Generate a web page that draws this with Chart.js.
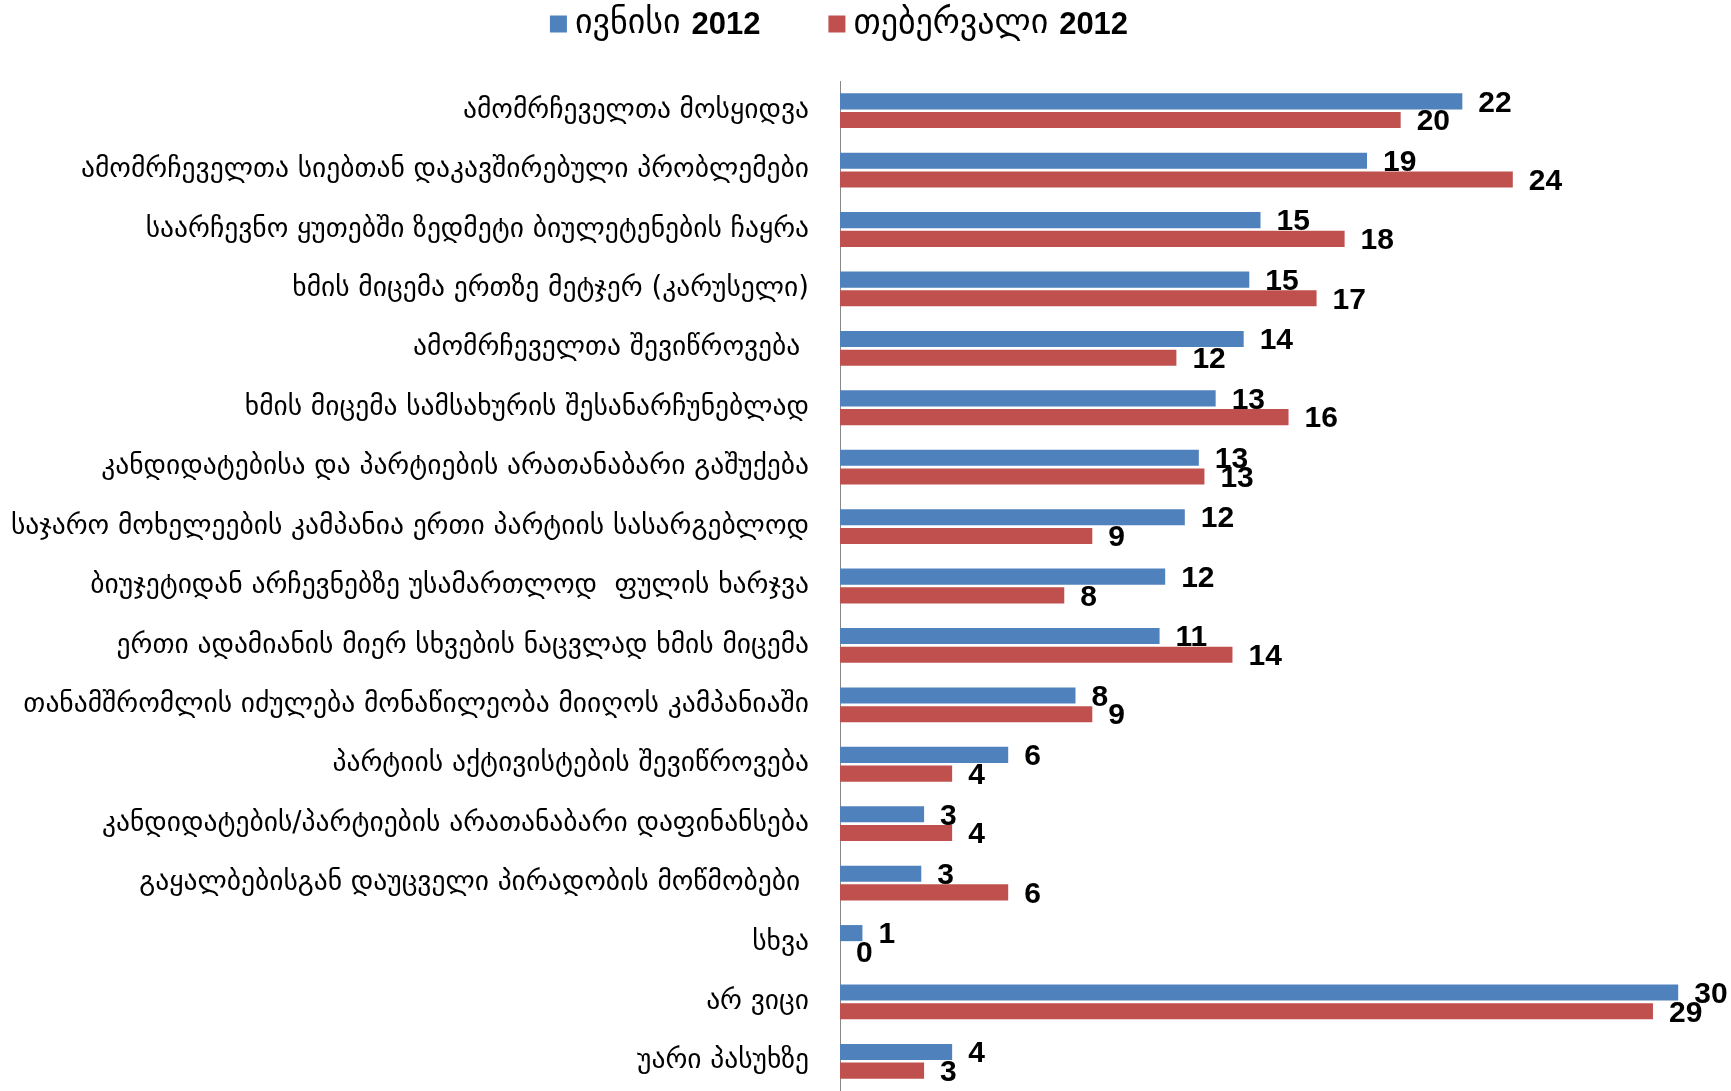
<!DOCTYPE html>
<html>
<head>
<meta charset="utf-8">
<script src="https://cdn.jsdelivr.net/npm/chart.js@4.4.0/dist/chart.umd.min.js"></script>
<style>
  body { margin: 0; background: #fff; }
  #wrap { width: 1731px; height: 1091px; }
</style>
</head>
<body>
<div id="wrap"><canvas id="barChart"></canvas></div>
<script>
// categories, top to bottom
var categories = [
  'ამომრჩეველთა მოსყიდვა',
  'ამომრჩეველთა სიებთან დაკავშირებული პრობლემები',
  'საარჩევნო ყუთებში ზედმეტი ბიულეტენების ჩაყრა',
  'ხმის მიცემა ერთზე მეტჯერ (კარუსელი)',
  'ამომრჩეველთა შევიწროვება ',
  'ხმის მიცემა სამსახურის შესანარჩუნებლად',
  'კანდიდატებისა და პარტიების არათანაბარი გაშუქება',
  'საჯარო მოხელეების კამპანია ერთი პარტიის სასარგებლოდ',
  'ბიუჯეტიდან არჩევნებზე უსამართლოდ  ფულის ხარჯვა',
  'ერთი ადამიანის მიერ სხვების ნაცვლად ხმის მიცემა',
  'თანამშრომლის იძულება მონაწილეობა მიიღოს კამპანიაში',
  'პარტიის აქტივისტების შევიწროვება',
  'კანდიდატების/პარტიების არათანაბარი დაფინანსება',
  'გაყალბებისგან დაუცველი პირადობის მოწმობები ',
  'სხვა',
  'არ ვიცი',
  'უარი პასუხზე'
];
var seriesNames = ['ივნისი 2012', 'თებერვალი 2012'];
var juneValues = [22.2, 18.8, 15.0, 14.6, 14.4, 13.4, 12.8, 12.3, 11.6, 11.4, 8.4, 6.0, 3.0, 2.9, 0.8, 29.9, 4.0];
var febValues  = [20, 24, 18, 17, 12, 16, 13, 9, 8, 14, 9, 4, 4, 6, 0, 29, 3];
var seriesColors = ['#4F81BD', '#C0504D'];

// numbers at the end of each bar
var valueLabels = {
  id: 'valueLabels',
  afterDatasetsDraw: function(chart) {
    var ctx = chart.ctx;
    ctx.save();
    ctx.font = 'bold 30px "Liberation Sans", Arial, sans-serif';
    ctx.fillStyle = '#000';
    ctx.textBaseline = 'middle';
    ctx.textAlign = 'left';
    chart.data.datasets.forEach(function(ds, i) {
      chart.getDatasetMeta(i).data.forEach(function(bar, j) {
        ctx.fillText(String(Math.round(ds.data[j])), bar.x + 16, bar.y + 2);
      });
    });
    ctx.restore();
  }
};

// legend: georgian word regular, year bold
var topLegend = {
  id: 'topLegend',
  afterDraw: function(chart) {
    var ctx = chart.ctx;
    var regular = '34px "DejaVu Sans", sans-serif';
    var bold = 'bold 31px "Liberation Sans", Arial, sans-serif';
    var box = 17, gapBox = 8, gapItem = 68, y = 24;
    var items = chart.data.datasets.map(function(ds) {
      var k = ds.label.lastIndexOf(' ');
      var word = ds.label.slice(0, k + 1), year = ds.label.slice(k + 1);
      ctx.font = regular; var w1 = ctx.measureText(word).width;
      ctx.font = bold; var w2 = ctx.measureText(year).width;
      return { word: word, year: year, w1: w1, w2: w2, color: ds.backgroundColor };
    });
    var total = 0;
    items.forEach(function(it, i) { total += box + gapBox + it.w1 + it.w2 + (i ? gapItem : 0); });
    var x = 839 - total / 2;
    ctx.save();
    ctx.textBaseline = 'middle';
    ctx.textAlign = 'left';
    items.forEach(function(it) {
      ctx.fillStyle = it.color;
      ctx.fillRect(x, y - box / 2, box, box);
      x += box + gapBox;
      ctx.fillStyle = '#000';
      ctx.font = regular; ctx.fillText(it.word, x, y);
      x += it.w1;
      ctx.font = bold; ctx.fillText(it.year, x, y + 1);
      x += it.w2 + gapItem;
    });
    ctx.restore();
  }
};

var ctx = document.getElementById('barChart');
var barChart = new Chart(ctx, {
  type: 'bar',
  data: {
    labels: categories,
    datasets: [
      { label: seriesNames[0], data: juneValues, backgroundColor: seriesColors[0] },
      { label: seriesNames[1], data: febValues, backgroundColor: seriesColors[1] }
    ]
  },
  options: {
    indexAxis: 'y',
    responsive: true,
    maintainAspectRatio: false,
    animation: false,
    categoryPercentage: 0.63,
    barPercentage: 0.86,
    layout: { padding: { top: 81, right: 50, bottom: -3, left: 0 } },
    plugins: {
      legend: { display: false },
      tooltip: { enabled: false }
    },
    scales: {
      x: { display: false, min: 0, max: 30 },
      y: {
        afterFit: function(scale) {
          scale.width = 840;
          scale.paddingTop = 0;
          scale.paddingBottom = 0;
        },
        grid: { display: false, drawTicks: false },
        border: { display: true, color: '#888', width: 1 },
        ticks: {
          autoSkip: false,
          padding: 31,
          color: '#000',
          font: { family: '"DejaVu Sans", sans-serif', size: 27.5 }
        }
      }
    }
  },
  plugins: [valueLabels, topLegend]
});
</script>
</body>
</html>
